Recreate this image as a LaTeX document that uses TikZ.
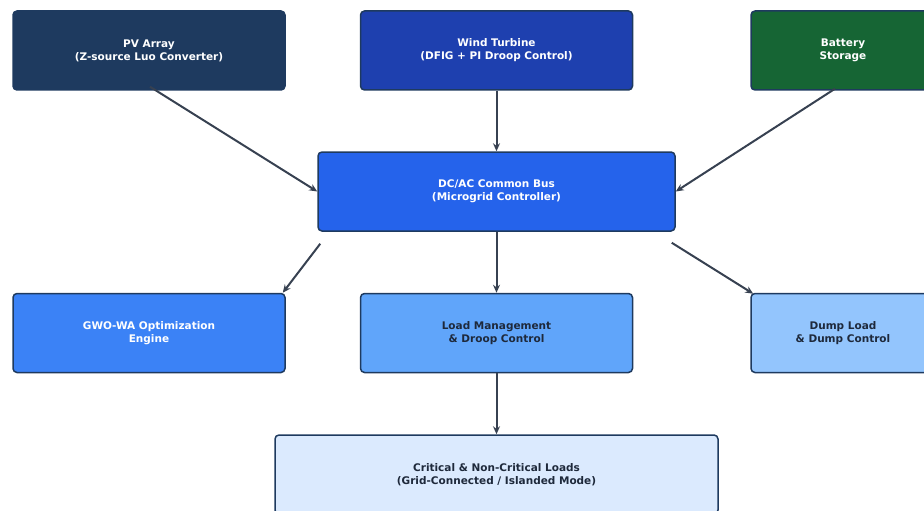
\documentclass[tikz,border=0pt]{standalone}
\usepackage{fontspec}
\setmainfont{DejaVu Sans}
\usetikzlibrary{arrows.meta,calc}
\definecolor{pvc}{HTML}{1E3A5F}
\definecolor{windc}{HTML}{1E40AF}
\definecolor{batc}{HTML}{166534}
\definecolor{busc}{HTML}{2563EB}
\definecolor{gwoc}{HTML}{3B82F6}
\definecolor{loadc}{HTML}{60A5FA}
\definecolor{dumpc}{HTML}{93C5FD}
\definecolor{critc}{HTML}{DBEAFE}
\definecolor{edgec}{HTML}{1E3A5F}
\definecolor{arrc}{HTML}{374151}
\definecolor{darktxt}{HTML}{1E293B}
\tikzset{
  blk/.style={draw=edgec, line width=1.5pt, rounded corners=4pt, minimum height=79pt,
    inner sep=0pt, align=center, font=\fontsize{10.5}{13}\selectfont\bfseries},
  wide/.style={minimum width=272pt},
  edge/.style={minimum width=184pt},
  lighttxt/.style={text=white},
  darktext/.style={text=darktxt},
  conn/.style={draw=arrc, line width=2pt, -{Stealth[length=8pt,width=7pt]}}
}
\begin{document}
\begin{tikzpicture}[x=1pt,y=-1pt]
\useasboundingbox (0,0) rectangle (924,511);
\begin{scope}
\clip (0,0) rectangle (924,511);
\node[blk,wide,fill=pvc,lighttxt] (pv) at (149,50.5) {PV Array\\(Z-source Luo Converter)};
\node[blk,wide,fill=windc,lighttxt] (wind) at (496.5,50.5) {Wind Turbine\\(DFIG + PI Droop Control)};
\node[blk,edge,fill=batc,lighttxt] (bat) at (843,50.5) {Battery\\Storage};
\node[blk,minimum width=357pt,fill=busc,lighttxt] (bus) at (496.5,191.5) {DC/AC Common Bus\\(Microgrid Controller)};
\node[blk,wide,fill=gwoc,lighttxt] (gwo) at (149,333) {GWO-WA Optimization\\Engine};
\node[blk,wide,fill=loadc,darktext] (load) at (496.5,333) {Load Management\\\& Droop Control};
\node[blk,edge,fill=dumpc,darktext] (dump) at (843,333) {Dump Load\\\& Dump Control};
\node[blk,minimum width=443pt,fill=critc,darktext] (crit) at (496.5,474.5) {Critical \& Non-Critical Loads\\(Grid-Connected / Islanded Mode)};
\end{scope}
\draw[conn] ($(pv.south)+(1,-4)$) -- (bus.west);
\draw[conn] (wind.south) -- (bus.north);
\draw[conn] ($(bat.south)+(-8,-2)$) -- (bus.east);
\draw[conn] ($(bus.south west)+(3,12)$) -- ($(gwo.north east)+(-3,0)$);
\draw[conn] (bus.south) -- (load.north);
\draw[conn] ($(bus.south east)+(-4,11)$) -- ($(dump.north west)+(3,1)$);
\draw[conn] (load.south) -- (crit.north);
\end{tikzpicture}
\end{document}
